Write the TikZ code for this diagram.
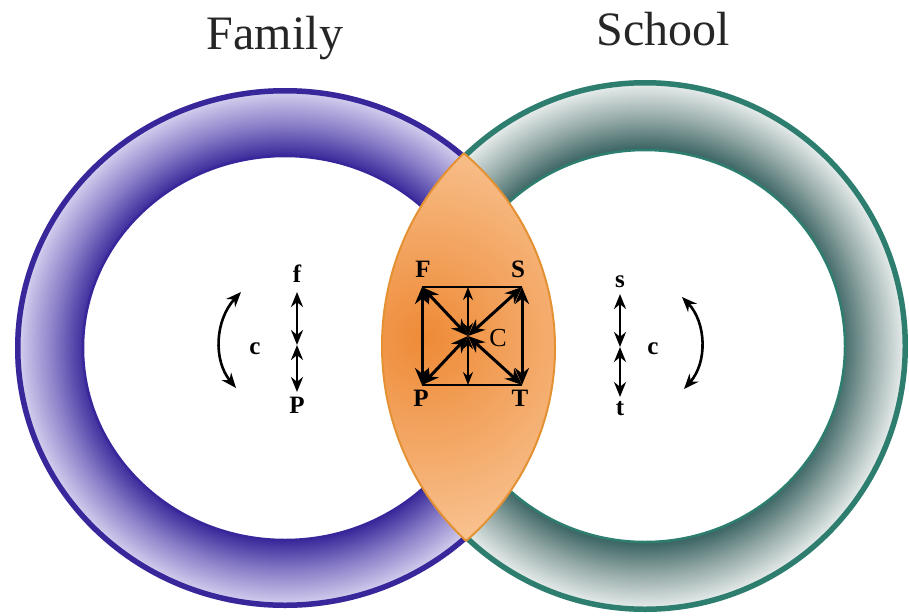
\documentclass[tikz,border=0pt]{standalone}
\usepackage{fontspec}
\setmainfont{Liberation Serif}
\usetikzlibrary{arrows.meta}
\definecolor{famline}{HTML}{38279A}
\definecolor{famdark}{HTML}{3C2C9C}
\definecolor{fammid}{HTML}{8A7FC8}
\definecolor{famlight}{HTML}{DCD7F2}
\definecolor{schline}{HTML}{2E7E6F}
\definecolor{schdark}{HTML}{3D6664}
\definecolor{schmid}{HTML}{95AAA8}
\definecolor{schlight}{HTML}{F0F4F3}
\definecolor{lensdark}{HTML}{EE8A36}
\definecolor{lenslight}{HTML}{F9C595}
\definecolor{lensline}{HTML}{E39133}
\pgfdeclareradialshading{famshade}{\pgfpoint{0bp}{0bp}}{color(0bp)=(famdark); color(18.6bp)=(famdark); color(21.5bp)=(fammid); color(25bp)=(famlight); color(50bp)=(famlight)}
\pgfdeclareradialshading{schshade}{\pgfpoint{0bp}{0bp}}{color(0bp)=(schdark); color(18.6bp)=(schdark); color(21.5bp)=(schmid); color(25bp)=(schlight); color(50bp)=(schlight)}
\tikzset{
  lbl/.style={font=\fontsize{25}{25}\selectfont\bfseries, inner sep=0pt},
  lblr/.style={font=\fontsize{26}{26}\selectfont, inner sep=0pt},
  titletext/.style={font=\fontsize{48}{48}\selectfont, text=black!85, inner sep=0pt, anchor=base},
  dblbig/.style={{Stealth[length=17pt,width=14pt]}-{Stealth[length=17pt,width=14pt]}, line width=3pt},
  dblsmall/.style={{Stealth[length=13pt,width=10pt]}-{Stealth[length=13pt,width=10pt]}, line width=2pt},
  dblmed/.style={{Stealth[length=15pt,width=12pt]}-{Stealth[length=15pt,width=12pt]}, line width=2.6pt},
  thinedge/.style={line width=2.3pt},
}
\begin{document}
\begin{tikzpicture}[x=1pt,y=-1pt]
\useasboundingbox (0,0) rectangle (909,615);
\coordinate (LC) at (285,348);
\coordinate (RC) at (645,346);
% Family ring
\begin{scope}
  \clip (LC) ellipse [x radius=270, y radius=260];
  \shade[shading=famshade, even odd rule] (LC) ellipse [x radius=270, y radius=260] (LC) ellipse [x radius=202, y radius=192];
  \draw[famline, line width=11pt] (LC) ellipse [x radius=270, y radius=260];
  \draw[famline, line width=2.5pt] (LC) ellipse [x radius=202, y radius=192];
\end{scope}
% School ring
\begin{scope}
  \clip (RC) ellipse [x radius=263, y radius=266];
  \shade[shading=schshade, even odd rule] (RC) ellipse [x radius=263, y radius=266] (RC) ellipse [x radius=200, y radius=196];
  \draw[schline, line width=11pt] (RC) ellipse [x radius=263, y radius=266];
  \draw[schline, line width=2.5pt] (RC) ellipse [x radius=200, y radius=196];
\end{scope}
% lens
\begin{scope}
  \clip (LC) ellipse [x radius=270, y radius=260];
  \clip (RC) ellipse [x radius=263, y radius=266];
  \shade[inner color=lensdark, outer color=lenslight] (425,338) circle (215);
\end{scope}
\begin{scope}
  \clip (LC) ellipse [x radius=270, y radius=260];
  \draw[lensline, line width=2pt] (RC) ellipse [x radius=263, y radius=266];
\end{scope}
\begin{scope}
  \clip (RC) ellipse [x radius=263, y radius=266];
  \draw[lensline, line width=2pt] (LC) ellipse [x radius=270, y radius=260];
\end{scope}
% titles
\node[titletext] (family) at (275,50) {Family};
\node[titletext] (school) at (663,46) {School};
% center diagram
\coordinate (cF) at (422,287);
\coordinate (cS) at (522,287);
\coordinate (cP) at (422,385);
\coordinate (cT) at (522,385);
\coordinate (cC) at (468,336);
\coordinate (cTop) at (468,287);
\coordinate (cBot) at (468,385);
\draw[thinedge] (cF) -- (cS);
\draw[thinedge] (cP) -- (cT);
\draw[dblbig] (cF) -- (cP);
\draw[dblbig] (cS) -- (cT);
\draw[dblbig] (cC) -- (cF);
\draw[dblbig] (cC) -- (cS);
\draw[dblbig] (cC) -- (cP);
\draw[dblbig] (cC) -- (cT);
\draw[dblsmall] (cC) -- (cTop);
\draw[dblsmall] (cC) -- (cBot);
\node[lbl] (F) at (423,269) {F};
\node[lbl] (S) at (518,269) {S};
\node[lbl] (P) at (421,398) {P};
\node[lbl] (T) at (520,398) {T};
\node[lblr] (C) at (498,338) {C};
% left small diagram
\node[lbl] (f) at (297,274) {f};
\node[lbl] (pl) at (297,405) {P};
\node[lbl] (cl) at (255,349) {c};
\coordinate (fa) at (297,292);
\coordinate (fm) at (297,345);
\coordinate (fb) at (297,392);
\draw[dblmed] (fa) -- (fm);
\draw[dblmed] (fm) -- (fb);
\coordinate (lca) at (241,292);
\coordinate (lcb) at (236,388);
\draw[dblmed] (lca) .. controls (215,320) and (213,360) .. (lcb);
% right small diagram
\node[lbl] (s) at (620,282) {s};
\node[lbl] (t) at (620,409) {t};
\node[lbl] (cr) at (653,349) {c};
\coordinate (sa) at (620,294);
\coordinate (sm) at (620,347);
\coordinate (sb) at (620,397);
\draw[dblmed] (sa) -- (sm);
\draw[dblmed] (sm) -- (sb);
\coordinate (rca) at (682,297);
\coordinate (rcb) at (684,389);
\draw[dblmed] (rca) .. controls (706,322) and (708,362) .. (rcb);
\end{tikzpicture}
\end{document}
